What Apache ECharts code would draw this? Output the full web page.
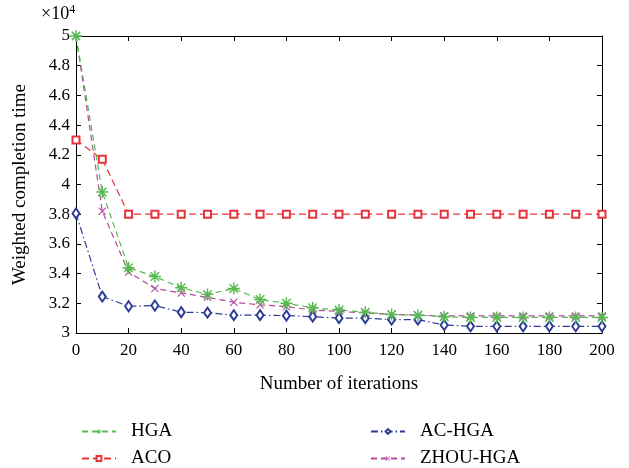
<!DOCTYPE html>
<html>
<head>
<meta charset="utf-8">
<script src="https://cdn.jsdelivr.net/npm/echarts@6/dist/echarts.min.js"></script>
<style>
  html, body { margin: 0; padding: 0; background: #fff; }
  #chart { width: 629px; height: 468px; }
</style>
</head>
<body>
<div id="chart"></div>
<script>
// iterations on x axis
const iterations = [0, 10, 20, 30, 40, 50, 60, 70, 80, 90, 100, 110, 120, 130, 140, 150, 160, 170, 180, 190, 200];

// weighted completion time, in units of 10^4
const hga = [5.0, 3.95, 3.44, 3.38, 3.305, 3.26, 3.30, 3.225, 3.20, 3.17, 3.155, 3.14, 3.125, 3.12, 3.11, 3.105, 3.105, 3.105, 3.105, 3.105, 3.105];
const aco = [4.30, 4.17, 3.80, 3.80, 3.80, 3.80, 3.80, 3.80, 3.80, 3.80, 3.80, 3.80, 3.80, 3.80, 3.80, 3.80, 3.80, 3.80, 3.80, 3.80, 3.80];
const acHga = [3.805, 3.245, 3.18, 3.185, 3.14, 3.137, 3.12, 3.12, 3.117, 3.11, 3.10, 3.10, 3.09, 3.09, 3.054, 3.045, 3.045, 3.045, 3.045, 3.045, 3.045];
const zhouHga = [5.0, 3.82, 3.41, 3.30, 3.27, 3.24, 3.207, 3.19, 3.177, 3.155, 3.145, 3.135, 3.125, 3.12, 3.115, 3.115, 3.115, 3.115, 3.115, 3.115, 3.115];

const seriesNames = ['HGA', 'ACO', 'AC-HGA', 'ZHOU-HGA'];
const yTicks = ['3', '3.2', '3.4', '3.6', '3.8', '4', '4.2', '4.4', '4.6', '4.8', '5'];

const pairs = (ys) => iterations.map((x, i) => [x, ys[i]]);

// asterisk and cross built from thin bars
const asterisk = 'path://M0 8.8L20 8.8L20 11.2L0 11.2Z M8.8 0L11.2 0L11.2 20L8.8 20Z M2.1 3.8L3.8 2.1L17.9 16.2L16.2 17.9Z M16.2 2.1L17.9 3.8L3.8 17.9L2.1 16.2Z';
const cross = 'path://M2.1 3.6L3.6 2.1L17.9 16.4L16.4 17.9Z M16.4 2.1L17.9 3.6L3.6 17.9L2.1 16.4Z';

const font = '"Liberation Serif", "DejaVu Serif", serif';
const chart = echarts.init(document.getElementById('chart'));

const axisBase = {
  axisLine: { show: true, onZero: false, lineStyle: { color: '#000', width: 1 } },
  axisTick: { show: true, inside: true, length: 5, lineStyle: { color: '#000' } },
  splitLine: { show: false }
};

// one legend per entry so the two columns sit where the reference has them
const legendAt = (name, left, top) => ({
  data: [name], left: left, top: top,
  itemWidth: 34, itemHeight: 6,
  textStyle: { fontFamily: font, fontSize: 19, color: '#000', padding: [0, 0, 0, 10] }
});

chart.setOption({
  animation: false,
  backgroundColor: '#fff',
  textStyle: { fontFamily: font },
  grid: { left: 76, right: 27, top: 36, bottom: 135 },
  xAxis: [
    Object.assign({}, axisBase, {
      type: 'value', min: 0, max: 200, interval: 20,
      name: 'Number of iterations', nameLocation: 'middle', nameGap: 42,
      nameTextStyle: { fontFamily: font, fontSize: 19, color: '#000' },
      axisLabel: { fontFamily: font, fontSize: 17, color: '#000', margin: 9 }
    }),
    Object.assign({}, axisBase, {
      type: 'value', min: 0, max: 200, interval: 20, position: 'top',
      axisLabel: { show: false }
    })
  ],
  yAxis: [
    Object.assign({}, axisBase, {
      type: 'value', min: 3, max: 5, interval: 0.2,
      name: 'Weighted completion time', nameLocation: 'middle', nameGap: 46,
      nameTextStyle: { fontFamily: font, fontSize: 19, color: '#000' },
      axisLabel: {
        fontFamily: font, fontSize: 17, color: '#000', margin: 6,
        formatter: (v) => yTicks[Math.round((v - 3) / 0.2)]
      }
    }),
    Object.assign({}, axisBase, {
      type: 'value', min: 3, max: 5, interval: 0.2, position: 'right',
      axisLabel: { show: false }
    })
  ],
  graphic: [{
    type: 'text', left: 41, top: 4,
    style: {
      text: '{b|×10}{s|4}',
      rich: {
        b: { fontFamily: font, fontSize: 18, fill: '#000' },
        s: { fontFamily: font, fontSize: 12, fill: '#000', verticalAlign: 'top', padding: [0, 0, 9, 0] }
      }
    }
  }],
  legend: [
    legendAt(seriesNames[0], 76, 417),
    legendAt(seriesNames[1], 76, 444),
    legendAt(seriesNames[2], 365, 417),
    legendAt(seriesNames[3], 365, 444)
  ],
  series: [
    {
      name: seriesNames[3], type: 'line', data: pairs(zhouHga), z: 2,
      symbol: cross, symbolSize: 8,
      itemStyle: { color: '#b5479f' },
      lineStyle: { color: '#b5479f', width: 1.2, type: [6, 4] }
    },
    {
      name: seriesNames[2], type: 'line', data: pairs(acHga), z: 3,
      symbol: 'emptyDiamond', symbolSize: [7, 10],
      itemStyle: { color: '#2d3a96', borderWidth: 1.3 },
      lineStyle: { color: '#2d3a96', width: 1.2, type: [7, 3, 1.5, 3] }
    },
    {
      name: seriesNames[1], type: 'line', data: pairs(aco), z: 4,
      symbol: 'emptyRect', symbolSize: 7,
      itemStyle: { color: '#e8333b', borderWidth: 1.2 },
      lineStyle: { color: '#e8333b', width: 1.2, type: [7, 4] }
    },
    {
      name: seriesNames[0], type: 'line', data: pairs(hga), z: 5,
      symbol: asterisk, symbolSize: 12,
      itemStyle: { color: '#55bb4f' },
      lineStyle: { color: '#55bb4f', width: 1.2, type: [6, 4] }
    }
  ]
});
</script>
</body>
</html>
